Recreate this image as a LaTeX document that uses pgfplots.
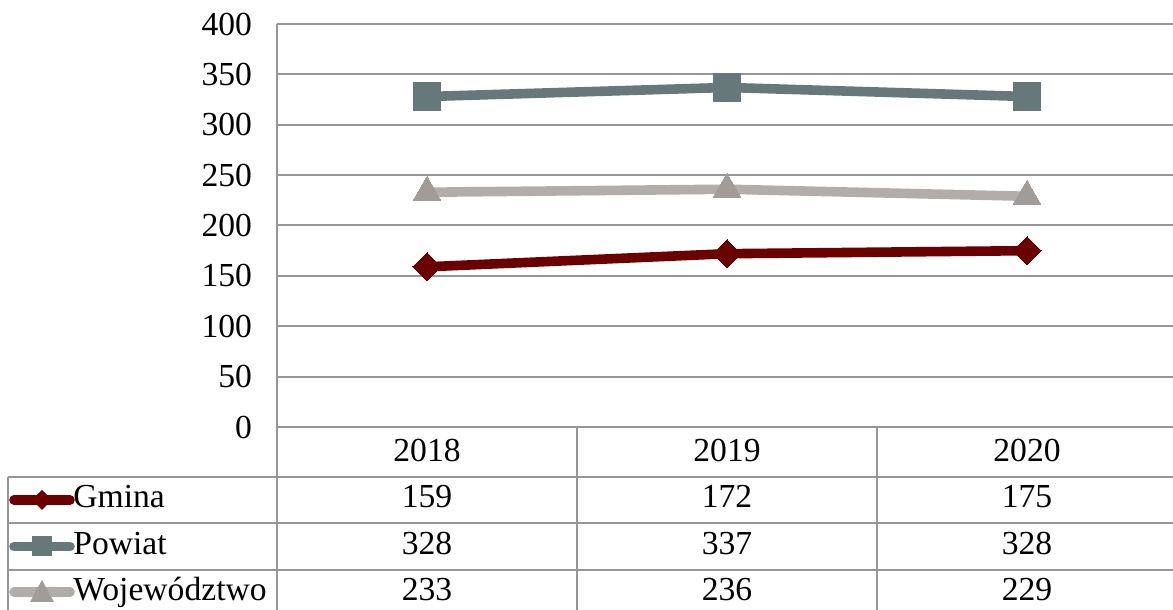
\documentclass[border=0pt]{standalone}
\usepackage{pgfplots}
\pgfplotsset{compat=1.18}
\usepackage{fontspec}
\setmainfont{Liberation Serif}
\definecolor{gmina}{HTML}{6B0000}
\definecolor{powiat}{HTML}{66787A}
\definecolor{woj}{HTML}{B3ADA9}
\definecolor{wojmark}{HTML}{A29C98}
\definecolor{gridc}{HTML}{969696}
\newcommand{\tf}{\fontsize{16.8pt}{19pt}\selectfont}

\begin{document}
\begin{tikzpicture}[x=0.5pt,y=0.5pt,font=\tf]
\useasboundingbox (0,0) rectangle (1173,610);
\begin{axis}[
    at={(138.5pt,91.5pt)}, anchor=south west,
    scale only axis, width=450pt, height=201.5pt,
    xmin=-0.5, xmax=2.5, ymin=0, ymax=400,
    xtick=\empty, ytick={0,50,...,400},
    ymajorgrids, grid style={line width=1pt, gridc},
    axis line style={draw=none}, major tick length=0pt,
    yticklabel style={font=\tf, xshift=-9pt},
    /pgf/number format/assume math mode=true,
    clip=false,
]
\addplot[gmina, line width=4.8pt, mark=square*, mark size=5pt,
    mark options={rotate=45, line width=0pt}]
    coordinates {(0,159) (1,172) (2,175)};
\addplot[powiat, line width=4.8pt, mark=square*, mark size=6.9pt,
    mark options={line width=0pt}]
    coordinates {(0,328) (1,337) (2,328)};
\addplot[woj, line width=4.8pt, mark=triangle*, mark size=8pt,
    mark options={line width=0pt, fill=wojmark, draw=wojmark}]
    coordinates {(0,233) (1,236) (2,229)};
\end{axis}

% data table below the plot
\draw[gridc, line width=1pt] (277,586) -- (277,0);
\draw[gridc, line width=1pt] (577,183) -- (577,0) (877,183) -- (877,0);
\draw[gridc, line width=1pt] (8,133) -- (8,0);
\draw[gridc, line width=1pt] (8,133) -- (1180,133) (8,87) -- (1180,87) (8,40) -- (1180,40);

\foreach \x/\t in {427/2018, 727/2019, 1027/2020}
  \node[anchor=base, inner sep=0pt] at (\x,148) {\t};
\foreach \x/\t in {427/159, 727/172, 1027/175}
  \node[anchor=base, inner sep=0pt] at (\x,102) {\t};
\foreach \x/\t in {427/328, 727/337, 1027/328}
  \node[anchor=base, inner sep=0pt] at (\x,55) {\t};
\foreach \x/\t in {427/233, 727/236, 1027/229}
  \node[anchor=base, inner sep=0pt] at (\x,9) {\t};

% legend keys
\draw[gmina, line width=4.8pt, line cap=round] (14,110) -- (70,110);
\fill[gmina] (42,110) ++(0,10) -- ++(10,-10) -- ++(-10,-10) -- ++(-10,10) -- cycle;
\node[anchor=base west, inner sep=0pt] at (73,102) {Gmina};
\draw[powiat, line width=4.8pt, line cap=round] (14,63.5) -- (70,63.5);
\fill[powiat] (32,53.5) rectangle (52,73.5);
\node[anchor=base west, inner sep=0pt] at (73,55) {Powiat};
\draw[woj, line width=4.8pt, line cap=round] (14,18) -- (70,18);
\fill[wojmark] (30,8) -- (54,8) -- (42,30) -- cycle;
\node[anchor=base west, inner sep=0pt] at (73,9) {Województwo};
\end{tikzpicture}
\end{document}
